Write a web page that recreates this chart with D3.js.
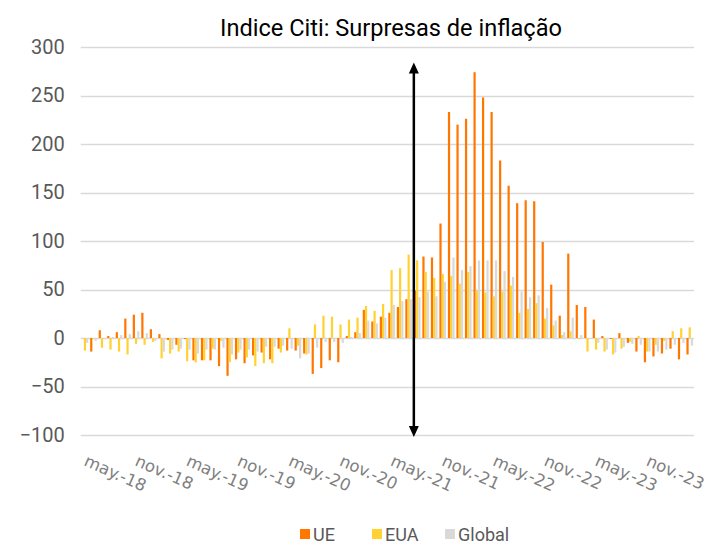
<!DOCTYPE html>
<html>
<head>
<meta charset="utf-8">
<script src="https://cdn.jsdelivr.net/npm/d3@7"></script>
<style>
  body { margin: 0; background: #fff; }
  svg { display: block; }
</style>
</head>
<body>
<svg id="chart" width="708" height="545"></svg>
<script>
// meses (mai-18 a abr-24)
var months = [
  "2018-05","2018-06","2018-07","2018-08","2018-09","2018-10","2018-11","2018-12",
  "2019-01","2019-02","2019-03","2019-04","2019-05","2019-06","2019-07","2019-08","2019-09","2019-10","2019-11","2019-12",
  "2020-01","2020-02","2020-03","2020-04","2020-05","2020-06","2020-07","2020-08","2020-09","2020-10","2020-11","2020-12",
  "2021-01","2021-02","2021-03","2021-04","2021-05","2021-06","2021-07","2021-08","2021-09","2021-10","2021-11","2021-12",
  "2022-01","2022-02","2022-03","2022-04","2022-05","2022-06","2022-07","2022-08","2022-09","2022-10","2022-11","2022-12",
  "2023-01","2023-02","2023-03","2023-04","2023-05","2023-06","2023-07","2023-08","2023-09","2023-10","2023-11","2023-12",
  "2024-01","2024-02","2024-03","2024-04"
]
var ue = [
  0, -14, 8, 2, 6, 20, 24, 26,
  9, 4, -2, -7, -1, -23, -23, -23, -29, -39, -22, -26,
  -18, -15, -22, -11, -13, -13, -16, -37, -31, -23, -25, 2,
  6, 29, 17, 22, 26, 32, 40, 49, 84, 83, 118, 233,
  220, 226, 274, 248, 233, 183, 157, 139, 142, 141, 99, 55,
  23, 87, 34, 32, 19, 2, -1, 5, -5, -14, -25, -19,
  -16, -11, -22, -17
]
var eua = [
  -13, -1, -10, -12, -14, -17, -6, -7,
  -4, -21, -16, -14, -24, -25, -23, -11, -3, -25, -15, -20,
  -29, -26, -26, -15, 10, -8, -17, 14, 23, 22, 14, 19,
  21, 33, 28, 35, 70, 72, 86, 80, 68, 62, 66, 64,
  56, 68, 49, 47, 43, 48, 54, 26, 30, 36, 20, 13,
  3, 7, -1, -14, -12, -14, -17, -11, -4, 2, -14, -7,
  -3, 7, 10, 11
]
var glob = [
  -5, -3, 0, 1, 3, 4, 7, 5,
  -3, -14, -12, -11, -12, -16, -12, -12, -10, -17, -12, -12,
  -14, -9, -9, -8, -11, -21, -16, -10, -4, -4, -5, 1,
  5, 18, 15, 21, 34, 38, 40, 42, 48, 43, 58, 83,
  70, 74, 80, 80, 80, 69, 63, 48, 42, 44, 31, 18,
  6, 21, 3, -1, -5, -12, -15, -9, -6, -7, -14, -14,
  -12, -7, -5, -8
]
var seriesNames = ["UE", "EUA", "Global"]
var seriesColors = ["#ff7700", "#ffd232", "#d9d9d9"]
var yTicks = [-100, -50, 0, 50, 100, 150, 200, 250, 300]
var xTickMonths = ["2018-05","2018-11","2019-05","2019-11","2020-05","2020-11","2021-05","2021-11","2022-05","2022-11","2023-05","2023-11"]
var xTickLabels = ["may.-18","nov.-18","may.-19","nov.-19","may.-20","nov.-20","may.-21","nov.-21","may.-22","nov.-22","may.-23","nov.-23"]
var arrowMonth = "2021-08"
var arrowRange = [284, -102]

var svg = d3.select("#chart")
var pLeft = 80.7, pRight = 694, pTop = 47, pBottom = 435

var x = d3.scaleBand().domain(months).range([pLeft, pRight]).paddingInner(0.22).paddingOuter(0.11)
var xs = d3.scaleBand().domain(seriesNames).range([0, x.bandwidth()])
var y = d3.scaleLinear().domain([-100, 300]).range([pBottom, pTop])

// grelha
svg.append("g").selectAll("line")
  .data(yTicks)
  .enter()
  .append("line")
  .attr("x1", pLeft).attr("x2", pRight)
  .attr("y1", function (d) { return Math.round(y(d)) + 0.5 })
  .attr("y2", function (d) { return Math.round(y(d)) + 0.5 })
  .attr("stroke", "#d9d9d9")
  .attr("stroke-width", 1.5)

// eixo y
var yAxis = svg.append("g")
  .attr("transform", "translate(" + (pLeft - 16) + ",0)")
  .call(d3.axisLeft(y).tickValues(yTicks).tickSize(0).tickPadding(0))
yAxis.select(".domain").remove()
yAxis.selectAll("text")
  .attr("font-family", "Roboto, 'Liberation Sans', sans-serif")
  .attr("font-size", "20px")
  .attr("fill", "#595959")

// barras
var rows = months.map(function (m, i) {
  return { m: m, vals: [ue[i], eua[i], glob[i]] }
})
var groups = svg.append("g").selectAll("g")
  .data(rows)
  .enter()
  .append("g")
  .attr("transform", function (d) { return "translate(" + x(d.m) + ",0)" })
groups.selectAll("rect")
  .data(function (d) { return d.vals.map(function (v, k) { return { k: k, v: v } }) })
  .enter()
  .append("rect")
  .attr("x", function (d) { return xs(seriesNames[d.k]) })
  .attr("width", xs.bandwidth())
  .attr("y", function (d) { return y(Math.max(0, d.v)) })
  .attr("height", function (d) { return Math.abs(y(d.v) - y(0)) })
  .attr("fill", function (d) { return seriesColors[d.k] })

// eixo x (etiquetas inclinadas)
svg.append("g").selectAll("text")
  .data(xTickMonths)
  .enter()
  .append("text")
  .attr("transform", function (d) {
    return "translate(" + (x(d) + x.bandwidth() / 2 - 2) + ",465) rotate(24)"
  })
  .attr("font-family", "'DejaVu Sans', sans-serif")
  .attr("font-size", "16.5px")
  .attr("fill", "#808080")
  .text(function (d, i) { return xTickLabels[i] })

// seta
var ax = x(arrowMonth)
var yt = y(arrowRange[0]), yb = y(arrowRange[1])
svg.append("line")
  .attr("x1", ax).attr("x2", ax)
  .attr("y1", yt + 8).attr("y2", yb - 8)
  .attr("stroke", "#000")
  .attr("stroke-width", 2.5)
svg.append("path")
  .attr("d", "M" + ax + "," + yt + "L" + (ax + 5) + "," + (yt + 11) + "L" + (ax - 5) + "," + (yt + 11) + "Z")
  .attr("fill", "#000")
svg.append("path")
  .attr("d", "M" + ax + "," + yb + "L" + (ax + 5) + "," + (yb - 11) + "L" + (ax - 5) + "," + (yb - 11) + "Z")
  .attr("fill", "#000")

// titulo
var title = svg.append("text")
  .attr("x", 391)
  .attr("y", 36)
  .attr("text-anchor", "middle")
  .attr("font-family", "Roboto, 'Liberation Sans', sans-serif")
  .attr("font-size", "20px")
  .attr("fill", "#000")
  .text("Indice Citi: Surpresas de inflação")
var tw = title.node().getComputedTextLength()
title.attr("font-size", (20 * 342 / tw).toFixed(2) + "px")

// legenda
var legX = [300, 372, 445]
var leg = svg.append("g").selectAll("g")
  .data(seriesNames)
  .enter()
  .append("g")
  .attr("transform", function (d, i) { return "translate(" + legX[i] + ",529)" })
leg.append("rect")
  .attr("width", 10).attr("height", 10)
  .attr("fill", function (d, i) { return seriesColors[i] })
leg.append("text")
  .attr("x", 13)
  .attr("y", 12)
  .attr("font-family", "Roboto, 'Liberation Sans', sans-serif")
  .attr("font-size", "18px")
  .attr("fill", "#595959")
  .text(function (d) { return d })
</script>
</body>
</html>
